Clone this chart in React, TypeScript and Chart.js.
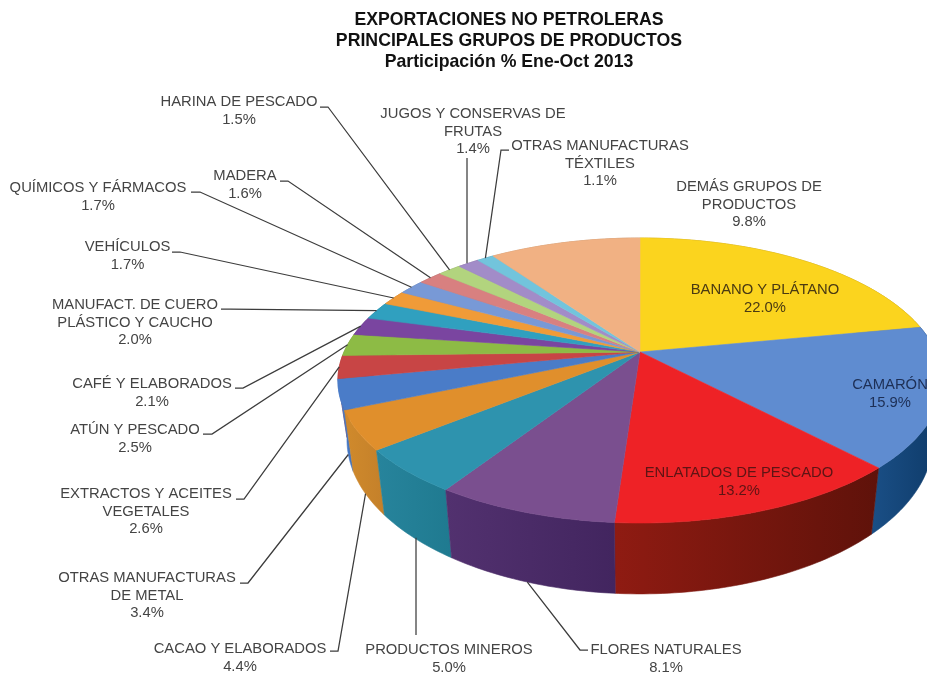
import React, { useEffect, useRef } from "react";
import { Chart, registerables } from "chart.js";

Chart.register(...registerables);

const titleLines = [
  "EXPORTACIONES NO PETROLERAS",
  "PRINCIPALES GRUPOS DE PRODUCTOS",
  "Participación % Ene-Oct 2013",
];

const categories = [
  "BANANO Y PLÁTANO",
  "CAMARÓN",
  "ENLATADOS DE PESCADO",
  "FLORES NATURALES",
  "PRODUCTOS MINEROS",
  "CACAO Y ELABORADOS",
  "OTRAS MANUFACTURAS|DE METAL",
  "EXTRACTOS Y ACEITES|VEGETALES",
  "ATÚN Y PESCADO",
  "CAFÉ Y ELABORADOS",
  "MANUFACT. DE CUERO|PLÁSTICO Y CAUCHO",
  "VEHÍCULOS",
  "QUÍMICOS Y FÁRMACOS",
  "MADERA",
  "HARINA DE PESCADO",
  "JUGOS Y CONSERVAS DE|FRUTAS",
  "OTRAS MANUFACTURAS|TÉXTILES",
  "DEMÁS GRUPOS DE|PRODUCTOS",
];

const shares = [22.0, 15.9, 13.2, 8.1, 5.0, 4.4, 3.4, 2.6, 2.5, 2.1, 2.0, 1.7, 1.7, 1.6, 1.5, 1.4, 1.1, 9.8];

const faceColors = [
  "#fbd41e", "#5f8cd0", "#ee2226", "#7a4f8f", "#2e93ae", "#e08f2c",
  "#4a7cc8", "#c84545", "#8dbb45", "#7a45a0", "#30a0bf", "#f09b38",
  "#7899d6", "#d88080", "#b2d47e", "#a28cc8", "#72c4dc", "#f1b183",
];

const wallLeft = [
  "#b89510", "#1a4f86", "#8f1b12", "#52316f", "#27849c", "#d08a2c",
  "#4a7cc8", "#a8352f", "#73963a", "#573a7c", "#25829a", "#c47d2e",
  "#6582ae", "#a86663", "#8ea664", "#84709f", "#5b9cb0", "#c28f68",
];

const wallRight = [
  "#a08008", "#0e3a68", "#5f120a", "#42255f", "#1f7a90", "#c4802a",
  "#4274c0", "#982d28", "#688a32", "#4e3370", "#20758b", "#b57228",
  "#5a769f", "#985c59", "#80965a", "#766490", "#518ea0", "#b2825e",
];

const labelColors = [
  "#4a3a12", "#1d2f55", "#5e1414", "#444444", "#444444", "#444444",
  "#444444", "#444444", "#444444", "#444444", "#444444", "#444444",
  "#444444", "#444444", "#444444", "#444444", "#444444", "#444444",
];

// Text layout: centre x and first-line y of each label, leader start and elbow.
const labelX = [765, 890, 739, 666, 449, 240, 147, 146, 135, 152, 135, 127.5, 98, 245, 239, 473, 600, 749];
const labelY = [290, 385, 473, 650, 650, 649, 578, 494, 430, 384, 305, 247, 188, 176, 102, 114, 146, 187];
const leaderStartX = [null, null, null, 588, 416, 330, 240, 236, 203, 235, 221, 172, 191, 280, 320, 467, 509, null];
const leaderStartY = [null, null, null, 650, 635, 651, 583, 499, 434, 388, 309, 252, 192, 181, 107, 158, 150, null];
const leaderElbowX = [null, null, null, 580, 416, 338, 248, 244, 212, 243, 230, 180, 200, 288, 328, 467, 501, null];
const leaderOnWall = [false, false, false, true, true, true, true, false, false, false, false, false, false, false, false, false, false, false];

const CX = 640;
const CY = 352;
const RX = 296;
const RY = 136.8;
const TILT = 0.2;
const WALL_SX = 0.97;
const WALL_SY = 1.083;
const WALL_A = 27.5;

const top = (a: number) => {
  const u = Math.cos(a);
  const v = Math.sin(a);
  const w = 1 - TILT * v;
  return { x: CX + (RX * u) / w, y: CY + (RY * v) / w };
};
const bottom = (a: number) => {
  const p = top(a);
  return { x: CX + (p.x - CX) * WALL_SX, y: WALL_A + WALL_SY * p.y };
};

const FONT = '"Liberation Sans", Arial, sans-serif';

const pie3d = {
  id: "pie3d",
  beforeDatasetsDraw(chart: any) {
    const { ctx } = chart;
    const arcs = chart.getDatasetMeta(0).data;
    const order = arcs
      .map((arc: any, i: number) => ({ i, arc, mid: Math.sin((arc.startAngle + arc.endAngle) / 2) }))
      .sort((a: any, b: any) => a.mid - b.mid);

    ctx.save();
    ctx.lineJoin = "round";
    const step = Math.PI / 180;
    for (const { i, arc } of order) {
      const pts: number[] = [];
      for (let a = arc.startAngle; a < arc.endAngle; a += step) pts.push(a);
      pts.push(arc.endAngle);
      const tp = pts.map(top);
      const bt = pts.map(bottom);
      const xs = tp.concat(bt).map((p: any) => p.x);
      const g = ctx.createLinearGradient(Math.min(...xs), 0, Math.max(...xs), 0);
      g.addColorStop(0, wallLeft[i]);
      g.addColorStop(1, wallRight[i]);
      ctx.beginPath();
      tp.forEach((p: any, k: number) => (k ? ctx.lineTo(p.x, p.y) : ctx.moveTo(p.x, p.y)));
      bt.reverse().forEach((p: any) => ctx.lineTo(p.x, p.y));
      ctx.closePath();
      ctx.fillStyle = g;
      ctx.strokeStyle = g;
      ctx.lineWidth = 0.6;
      ctx.fill();
      ctx.stroke();
    }
    arcs.forEach((arc: any, i: number) => {
      ctx.beginPath();
      ctx.moveTo(CX, CY);
      for (let a = arc.startAngle; a < arc.endAngle; a += step) {
        const p = top(a);
        ctx.lineTo(p.x, p.y);
      }
      const e = top(arc.endAngle);
      ctx.lineTo(e.x, e.y);
      ctx.closePath();
      ctx.fillStyle = faceColors[i];
      ctx.strokeStyle = faceColors[i];
      ctx.lineWidth = 0.6;
      ctx.fill();
      ctx.stroke();
    });
    ctx.restore();
    return false;
  },
  afterDraw(chart: any) {
    const { ctx } = chart;
    const arcs = chart.getDatasetMeta(0).data;
    ctx.save();
    ctx.textAlign = "center";
    ctx.textBaseline = "middle";

    ctx.fillStyle = "#111111";
    ctx.font = `bold 17.7px ${FONT}`;
    titleLines.forEach((t, k) => ctx.fillText(t, 509, 20 + k * 21));

    ctx.strokeStyle = "#3c3c3c";
    ctx.lineWidth = 1.25;
    arcs.forEach((arc: any, i: number) => {
      const sx = leaderStartX[i];
      const sy = leaderStartY[i];
      const ex = leaderElbowX[i];
      if (sx != null && sy != null && ex != null) {
        const mid = (arc.startAngle + arc.endAngle) / 2;
        const end = leaderOnWall[i] ? bottom(mid) : top(mid);
        ctx.beginPath();
        ctx.moveTo(sx, sy);
        ctx.lineTo(ex, sy);
        ctx.lineTo(ex === sx ? sx : end.x, end.y);
        ctx.stroke();
      }
    });

    ctx.font = `14.8px ${FONT}`;
    categories.forEach((name, i) => {
      const lines = name.split("|").concat(`${shares[i].toFixed(1)}%`);
      ctx.fillStyle = labelColors[i];
      lines.forEach((t, k) => ctx.fillText(t, labelX[i], labelY[i] + k * 17.7));
    });
    ctx.restore();
  },
};

export default function App() {
  const ref = useRef<HTMLCanvasElement | null>(null);
  useEffect(() => {
    if (!ref.current) return;
    const chart = new Chart(ref.current, {
      type: "pie",
      data: {
        labels: categories.map((c) => c.replace("|", " ")),
        datasets: [{ data: shares, backgroundColor: faceColors, borderWidth: 0 }],
      },
      options: {
        responsive: false,
        animation: false,
        devicePixelRatio: 1,
        plugins: { legend: { display: false }, tooltip: { enabled: false } },
      },
      plugins: [pie3d],
    } as any);
    return () => chart.destroy();
  }, []);
  return (
    <div style={{ position: "fixed", left: 0, top: 0, width: 927, height: 673, background: "#fff", overflow: "hidden" }}>
      <canvas ref={ref} width={927} height={673} style={{ display: "block" }} />
    </div>
  );
}
